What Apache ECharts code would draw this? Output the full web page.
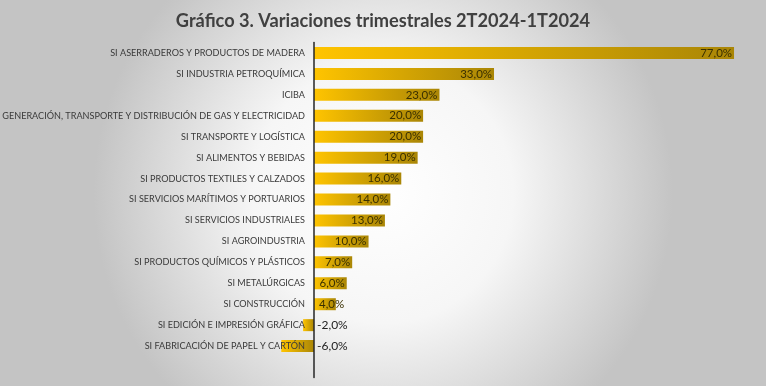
<!DOCTYPE html>
<html>
<head>
<meta charset="utf-8">
<script src="https://cdn.jsdelivr.net/npm/echarts@6/dist/echarts.min.js"></script>
<style>
html,body{margin:0;padding:0;}
#c{width:766px;height:386px;}
</style>
</head>
<body>
<div id="c"></div>
<script>
const title = 'Gráfico 3. Variaciones trimestrales 2T2024-1T2024';
const categories = [
  'SI ASERRADEROS Y PRODUCTOS DE MADERA',
  'SI INDUSTRIA PETROQUÍMICA',
  'ICIBA',
  'GENERACIÓN, TRANSPORTE Y DISTRIBUCIÓN DE GAS Y ELECTRICIDAD',
  'SI TRANSPORTE Y LOGÍSTICA',
  'SI ALIMENTOS Y BEBIDAS',
  'SI PRODUCTOS TEXTILES Y CALZADOS',
  'SI SERVICIOS MARÍTIMOS Y PORTUARIOS',
  'SI SERVICIOS INDUSTRIALES',
  'SI AGROINDUSTRIA',
  'SI PRODUCTOS QUÍMICOS Y PLÁSTICOS',
  'SI METALÚRGICAS',
  'SI CONSTRUCCIÓN',
  'SI EDICIÓN E IMPRESIÓN GRÁFICA',
  'SI FABRICACIÓN DE PAPEL Y CARTÓN',
  ''
];
const values = [77, 33, 23, 20, 20, 19, 16, 14, 13, 10, 7, 6, 4, -2, -6, null];

const fontFam = "Lato, 'Open Sans', sans-serif";
const grad = {
  type: 'linear', x: 0, y: 0, x2: 1, y2: 0,
  colorStops: [{offset: 0, color: '#FFC400'}, {offset: 1, color: '#AA8606'}]
};

const data = values.map(function (v) {
  if (v === null) return '-';
  let lab;
  if (v < 0) {
    lab = {position: 'right', distance: 3, color: '#222222', fontSize: 12};
  } else if (v < 5) {
    lab = {position: 'insideLeft', distance: 5};
  } else {
    lab = {position: 'insideRight', distance: 2};
  }
  return {value: v, label: lab};
});

const chart = echarts.init(document.getElementById('c'));
chart.setOption({
  backgroundColor: {
    type: 'radial', x: 0.5, y: 0.5, r: 0.75,
    colorStops: [{offset: 0, color: '#ffffff'}, {offset: 0.45, color: '#f6f6f6'}, {offset: 1, color: '#c4c4c4'}]
  },
  animation: false,
  title: {
    text: title,
    left: 'center',
    top: 7,
    textStyle: {fontFamily: fontFam, fontSize: 18.2, fontWeight: 'bold', color: '#404040'}
  },
  grid: {left: 314, right: 15.6, top: 42.5, bottom: 8.5, containLabel: false, outerBoundsMode: 'none'},
  xAxis: {
    type: 'value', min: 0, max: 80, show: false
  },
  yAxis: {
    type: 'category',
    data: categories,
    inverse: true,
    z: 5,
    axisLine: {onZero: true, lineStyle: {color: '#262626', width: 1.5}},
    axisTick: {show: false},
    axisLabel: {
      margin: 9,
      fontFamily: fontFam,
      fontSize: 9.1,
      color: '#3a3a3a'
    }
  },
  series: [{
    type: 'bar',
    data: data,
    barWidth: 12,
    clip: false,
    itemStyle: {color: grad},
    label: {
      show: true,
      fontFamily: fontFam,
      fontSize: 11.5,
      color: '#3a3000',
      formatter: function (p) { return p.value.toFixed(1).replace('.', ',') + '%'; }
    }
  }]
});
</script>
</body>
</html>
